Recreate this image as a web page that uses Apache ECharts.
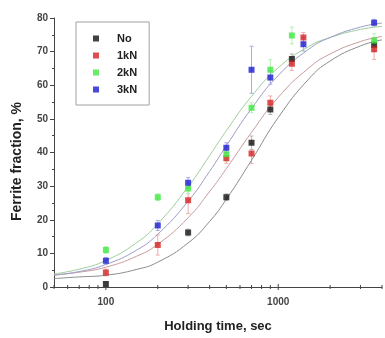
<!DOCTYPE html>
<html><head><meta charset="utf-8">
<script src="https://cdn.jsdelivr.net/npm/echarts@6/dist/echarts.min.js"></script>
<style>html,body{margin:0;padding:0;background:#fff}#c{width:385px;height:338px}</style>
</head><body><div id="c"></div>
<script>
// ---- data ----
const seriesNames = ['No', '1kN', '2kN', '3kN'];
const noT = [100, 300, 500, 700, 900, 1200, 3600];
const noV = [0.9, 16.2, 26.7, 42.9, 52.8, 67.8, 72];
const noE = [0.5, 1, 1, 2, 1.5, 1.5, 2];
const k1T = [100, 200, 300, 500, 700, 900, 1200, 1400, 3600];
const k1V = [4.3, 12.5, 25.8, 38.3, 39.7, 54.8, 66.4, 74.2, 70.7];
const k1E = [1, 3, 4, 1.5, 3, 2, 2, 1.5, 3];
const k2T = [100, 200, 300, 500, 700, 900, 1200, 3600];
const k2V = [11, 26.7, 29.3, 39.5, 53.3, 64.6, 74.8, 73.3];
const k2E = [1, 1, 1.5, 2, 1.5, 3, 2.5, 2];
const k3T = [100, 200, 300, 500, 700, 900, 1400, 3600];
const k3V = [7.8, 18.3, 31, 41.4, 64.6, 62.3, 72.2, 78.6];
const k3E = [1, 1.5, 1.5, 1.5, 7, 2, 2, 1];
// fitted curves, read at these times
const curveT = [50, 70, 100, 150, 200, 300, 400, 500, 700, 1000, 1500, 2000, 3000, 4000];
const noFit = [2.5, 3.0, 3.5, 5.2, 7.4, 13.1, 19.5, 26.1, 37.7, 50.4, 61.8, 67.2, 71.7, 73.5];
const k1Fit = [3.6, 4.4, 5.9, 9.1, 12.7, 20.6, 28.4, 35.2, 46.0, 56.4, 65.1, 69.3, 73.0, 74.5];
const k2Fit = [3.9, 5.3, 7.9, 13.1, 18.8, 29.8, 39.1, 46.5, 56.7, 65.2, 71.5, 74.2, 76.6, 77.5];
const k3Fit = [3.5, 4.6, 6.7, 10.9, 15.7, 25.5, 34.4, 42.0, 53.1, 62.9, 70.7, 74.2, 77.3, 78.5];
// axis ticks
const xMajorTicks = [100, 1000];
const xMinorTicks = [50, 60, 70, 80, 90, 200, 300, 400, 500, 600, 700, 800, 900, 2000, 3000, 4000];
const xLabels = [100, 1000];

const FONT = "'Liberation Sans', Arial, sans-serif";
const markerColors = ['#111111', '#d42222', '#3ee83e', '#1c1cd0'];
const errColors = ['#b4b4b4', '#f2aaaa', '#b4f0b4', '#aaaaec'];
const fitColors = ['#8c8c8c', '#c99c9c', '#9dcf9d', '#9c9cca'];

const groups = [
  [noT, noV, noE, noFit],
  [k1T, k1V, k1E, k1Fit],
  [k2T, k2V, k2E, k2Fit],
  [k3T, k3V, k3E, k3Fit]
];

const series = [];
// error bars
groups.forEach((g, i) => {
  series.push({
    type: 'custom', silent: true, clip: false, z: 1,
    data: g[0].map((t, j) => [t, g[1][j], g[2][j]]),
    renderItem: (params, api) => {
      const t = api.value(0), v = api.value(1), e = api.value(2);
      const top = api.coord([t, v + e]);
      const bot = api.coord([t, v - e]);
      return {
        type: 'group', children: [
          { type: 'line', shape: { x1: top[0], y1: top[1], x2: bot[0], y2: bot[1] }, style: { stroke: errColors[i], lineWidth: 1 } },
          { type: 'line', shape: { x1: top[0] - 2, y1: top[1], x2: top[0] + 2, y2: top[1] }, style: { stroke: errColors[i], lineWidth: 1 } },
          { type: 'line', shape: { x1: bot[0] - 2, y1: bot[1], x2: bot[0] + 2, y2: bot[1] }, style: { stroke: errColors[i], lineWidth: 1 } }
        ]
      };
    }
  });
});
// fitted curves
groups.forEach((g, i) => {
  series.push({
    type: 'line', silent: true, z: 2, smooth: 0.5, showSymbol: false,
    data: curveT.map((t, j) => [t, g[3][j]]),
    lineStyle: { color: fitColors[i], width: 1 }
  });
});
// markers
groups.forEach((g, i) => {
  series.push({
    name: seriesNames[i], type: 'scatter', z: 3, symbol: 'rect', symbolSize: 6,
    data: g[0].map((t, j) => [t, g[1][j]]),
    itemStyle: { color: markerColors[i] }
  });
});
// x ticks
function tickSeries(vals, len) {
  return {
    type: 'custom', silent: true, clip: false, z: 5,
    data: vals.map(t => [t, 0]),
    renderItem: (params, api) => {
      const p = api.coord([api.value(0), 0]);
      return { type: 'line', shape: { x1: p[0], y1: p[1] - len, x2: p[0], y2: p[1] + len }, style: { stroke: '#444', lineWidth: 1 } };
    }
  };
}
series.push(tickSeries(xMajorTicks, 3));
series.push(tickSeries(xMinorTicks, 2));

const chart = echarts.init(document.getElementById('c'), null, { renderer: 'canvas' });
chart.setOption({
  animation: false,
  backgroundColor: '#ffffff',
  grid: { left: 54, right: -2, top: 18, bottom: 44, containLabel: false },
  legend: {
    orient: 'vertical', left: 76, top: 22,
    data: seriesNames, icon: 'rect', itemWidth: 6, itemHeight: 6, itemGap: 6,
    padding: [11, 12, 10, 17],
    borderColor: '#a0a0a0', borderWidth: 1,
    textStyle: { fontFamily: FONT, fontSize: 11, fontWeight: 'bold', color: '#222', padding: [0, 0, 0, 13] }
  },
  xAxis: {
    type: 'log', logBase: 10, min: 50, max: 4000,
    name: 'Holding time, sec', nameLocation: 'middle', nameGap: 33,
    nameTextStyle: { fontFamily: FONT, fontSize: 13, fontWeight: 'bold', color: '#222' },
    axisLine: { show: true, onZero: false, lineStyle: { color: '#444', width: 1 } },
    axisTick: { show: false },
    splitLine: { show: false },
    axisLabel: {
      fontFamily: FONT, fontSize: 10, fontWeight: 'bold', color: '#444', margin: 10,
      formatter: v => { const r = Math.round(v); return xLabels.indexOf(r) >= 0 ? String(r) : ''; }
    }
  },
  yAxis: {
    type: 'value', min: 0, max: 80, interval: 10,
    name: 'Ferrite fraction, %', nameLocation: 'middle', nameGap: 30, nameRotate: 90,
    nameTextStyle: { fontFamily: FONT, fontSize: 14, fontWeight: 'bold', color: '#222', padding: [0, 18, 0, 0] },
    axisLine: { show: true, lineStyle: { color: '#444', width: 1 } },
    axisTick: { show: true, length: 4, lineStyle: { color: '#444' } },
    minorTick: { show: true, splitNumber: 2, length: 2, lineStyle: { color: '#444' } },
    splitLine: { show: false },
    axisLabel: { fontFamily: FONT, fontSize: 10, fontWeight: 'bold', color: '#444', margin: 6 }
  },
  series: series
});
</script>
</body></html>
